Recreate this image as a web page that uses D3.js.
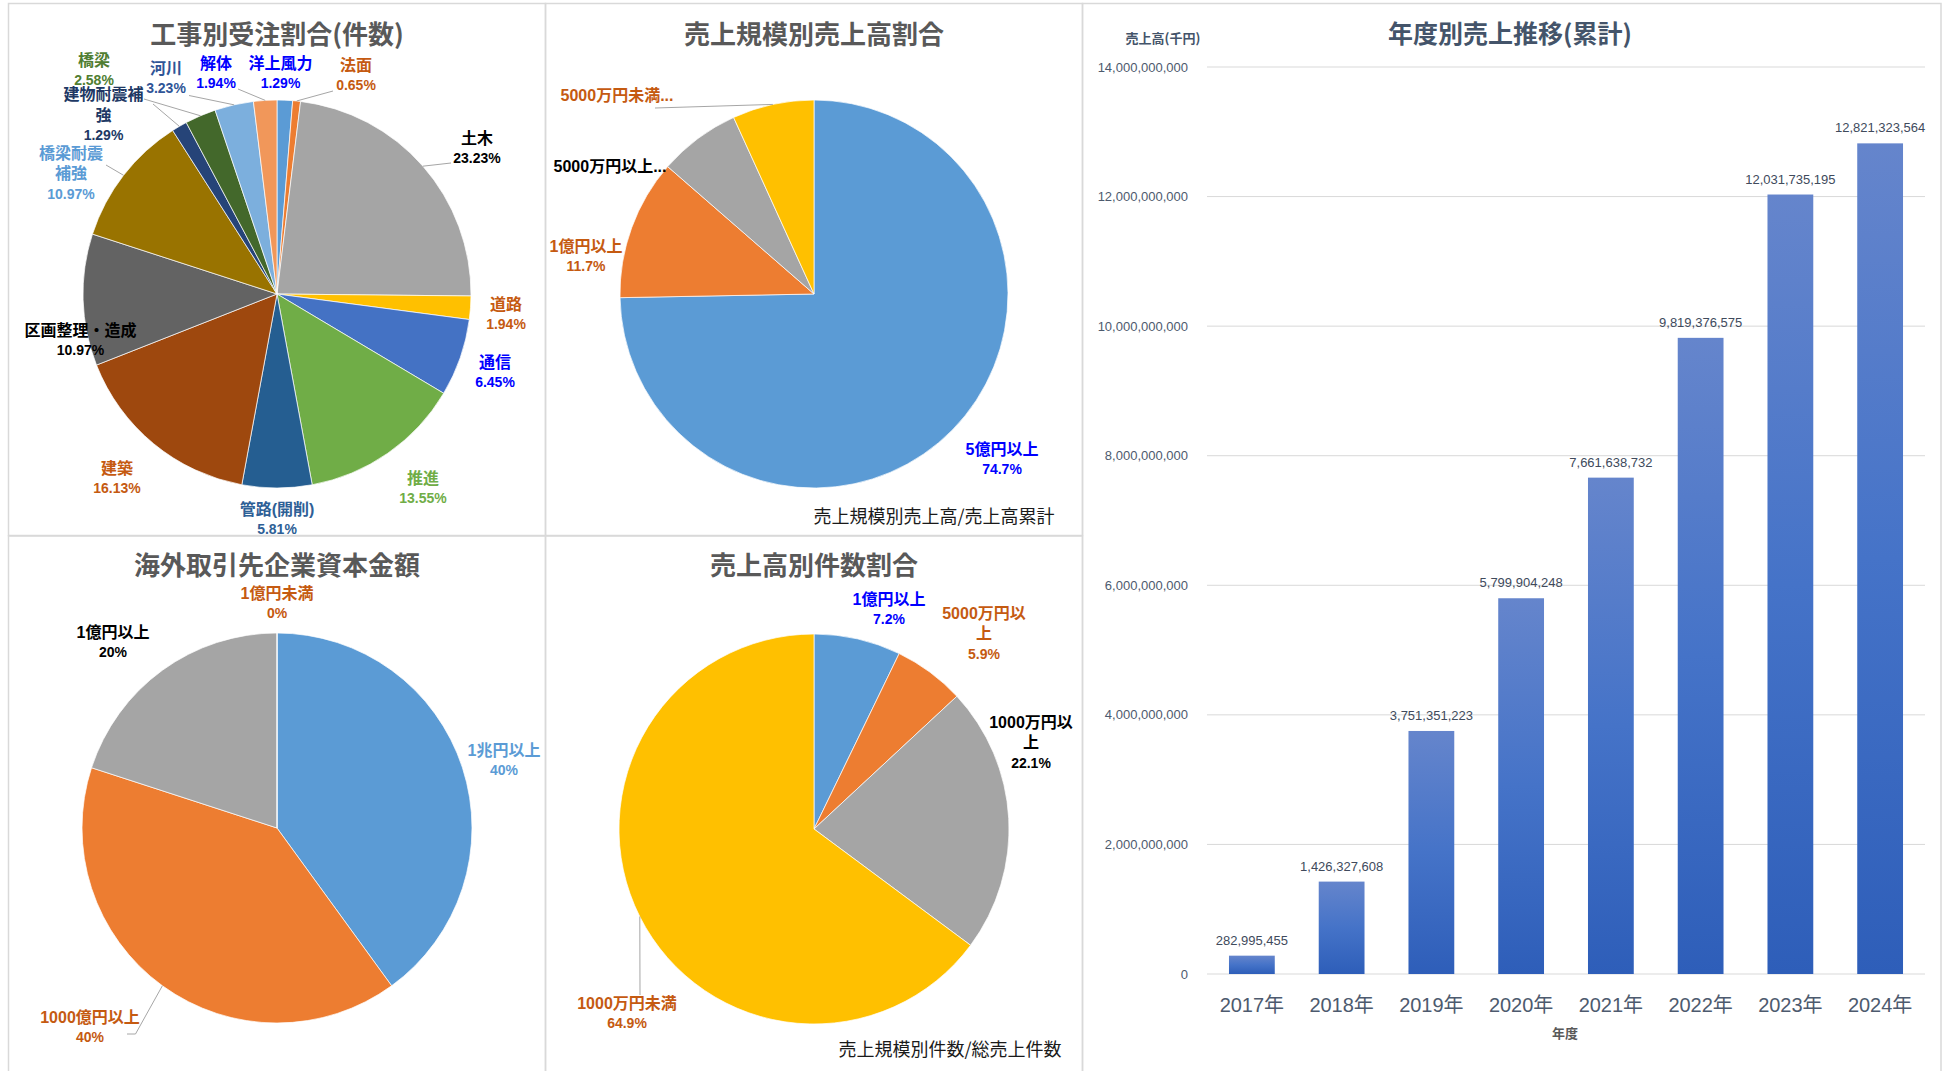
<!DOCTYPE html>
<html><head><meta charset="utf-8">
<script src="https://cdn.jsdelivr.net/npm/d3@7"></script>
<style>html,body{margin:0;padding:0;background:#fff;} svg{display:block;}</style>
</head><body>
<svg id="chart" width="1944" height="1071"></svg>
<script>
// ---------------- DATA ----------------
const workCategories = ["洋上風力","法面","土木","道路","通信","推進","管路(開削)","建築","区画整理・造成","橋梁耐震補強","建物耐震補強","橋梁","河川","解体"];
const workShares = [1.29,0.65,23.23,1.94,6.45,13.55,5.81,16.13,10.97,10.97,1.29,2.58,3.23,1.94];

const salesScaleCategories = ["5億円以上","1億円以上","5000万円以上...","5000万円未満..."];
const salesScaleShares = [74.7,11.7,6.8,6.8];

const partnerCapitalCategories = ["1兆円以上","1000億円以上","1億円以上","1億円未満"];
const partnerCapitalShares = [40,40,20,0];

const countCategories = ["1億円以上","5000万円以上","1000万円以上","1000万円未満"];
const countShares = [7.2,5.9,22.1,64.9];

const years = ["2017年","2018年","2019年","2020年","2021年","2022年","2023年","2024年"];
const cumulativeSales = [282995455,1426327608,3751351223,5799904248,7661638732,9819376575,12031735195,12821323564];
const yTickValues = [0,2000000000,4000000000,6000000000,8000000000,10000000000,12000000000,14000000000];

// ---------------- LAYOUT / STYLE ----------------
const svg = d3.select("#chart");
const LATIN_CJK = "'Liberation Sans','Noto Sans CJK JP',sans-serif";
const CJK = "'Noto Sans CJK JP','Liberation Sans',sans-serif";

const panels = [
  [8.5,3.5,545.5,535.5],[545.5,3.5,1082.5,535.5],
  [8.5,536,545.5,1080],[545.5,536,1082.5,1080],
  [1082.5,3.5,1941,1080]
];
svg.append("rect").attr("width",1944).attr("height",1071).attr("fill","#fff");
panels.forEach(p=>{
  svg.append("rect").attr("x",p[0]).attr("y",p[1]).attr("width",p[2]-p[0]).attr("height",p[3]-p[1])
    .attr("fill","none").attr("stroke","#d9d9d9").attr("stroke-width",1.5);
});

const BLUE="#0000ff", ORG="#c55a11", BLK="#000000";
const pieSpecs = [
  { cats: workCategories, vals: workShares, cx:277, cy:294, r:194,
    title:"工事別受注割合(件数)", titleY:35,
    fmt: v=>v.toFixed(2)+"%",
    colors:["#5b9bd5","#ed7d31","#a5a5a5","#ffc000","#4472c4","#70ad47","#255e91","#9e480e","#636363","#997300","#264478","#43682b","#7cafdd","#f1975a"],
    labelColors:[BLUE,ORG,BLK,ORG,BLUE,"#70ad47","#2e6096",ORG,BLK,"#5b9bd5","#203864","#507e32","#2f5597",BLUE],
    labels:[
      {dx:3.5,dy:-231},
      {dx:79,dy:-229,lead:[56,-203]},
      {dx:200,dy:-156,lead:[174,-131]},
      {dx:229,dy:10},
      {dx:218,dy:68},
      {dx:146,dy:184},
      {dx:0,dy:215},
      {dx:-160,dy:174},
      {dx:-196.5,dy:36},
      {dx:-206,dy:-141,br:4,lead:[-171,-129]},
      {dx:-173.5,dy:-199.5,br:5,lead:[-124,-190]},
      {dx:-183,dy:-234,lead:[-133,-195]},
      {dx:-111,dy:-226,lead:[-88,-198.5]},
      {dx:-61,dy:-231,lead:[-39,-205]}
    ]},
  { cats: salesScaleCategories, vals: salesScaleShares, cx:814, cy:294, r:194,
    title:"売上規模別売上高割合", titleY:35,
    fmt: v=>v.toFixed(1)+"%",
    colors:["#5b9bd5","#ed7d31","#a5a5a5","#ffc000"],
    labelColors:[BLUE,ORG,BLK,ORG],
    labels:[
      {dx:188,dy:155},
      {dx:-228,dy:-48},
      {dx:-204,dy:-128,nopct:true},
      {dx:-197,dy:-199,nopct:true,lead:[-159,-186]}
    ],
    note:"売上規模別売上高/売上高累計", noteX:934, noteY:517},
  { cats: partnerCapitalCategories, vals: partnerCapitalShares, cx:277, cy:828, r:195,
    title:"海外取引先企業資本金額", titleY:566,
    fmt: v=>d3.format(".0f")(v)+"%",
    colors:["#5b9bd5","#ed7d31","#a5a5a5","#ffc000"],
    labelColors:["#5b9bd5",ORG,BLK,ORG],
    labels:[
      {dx:227,dy:-78},
      {dx:-187,dy:189,lead:[-150,206],elbow:[-141.5,206]},
      {dx:-164,dy:-196},
      {dx:0,dy:-235}
    ]},
  { cats: countCategories, vals: countShares, cx:814, cy:829, r:195,
    title:"売上高別件数割合", titleY:566,
    fmt: v=>v.toFixed(1)+"%",
    colors:["#5b9bd5","#ed7d31","#a5a5a5","#ffc000"],
    labelColors:[BLUE,ORG,BLK,ORG],
    labels:[
      {dx:75,dy:-230},
      {dx:170,dy:-216,br:7},
      {dx:217,dy:-107,br:7},
      {dx:-187,dy:174,lead:[-174,166]}
    ],
    note:"売上規模別件数/総売上件数", noteX:950, noteY:1049.5}
];

const LINE_H = 20.5;
pieSpecs.forEach(spec=>{
  const g = svg.append("g");
  const data = spec.cats.map((c,i)=>({cat:c, value:spec.vals[i], i}));
  const arcs = d3.pie().sort(null).value(d=>d.value).startAngle(0).endAngle(2*Math.PI)(data);
  const arc = d3.arc().innerRadius(0).outerRadius(spec.r);
  const edge = d3.arc().innerRadius(spec.r).outerRadius(spec.r);
  const pg = g.append("g").attr("transform",`translate(${spec.cx},${spec.cy})`);
  pg.selectAll("path.slice").data(arcs).join("path").attr("class","slice")
    .attr("d",arc).attr("fill",d=>spec.colors[d.data.i])
    .attr("stroke","#fff").attr("stroke-width",0.7);

  arcs.forEach(a=>{
    const L = spec.labels[a.data.i];
    if(!L.lead) return;
    const e = edge.centroid(a);
    const pts = [L.lead];
    if(L.elbow) pts.push(L.elbow);
    pts.push(e);
    pg.append("path").attr("d",d3.line()(pts)).attr("fill","none")
      .attr("stroke","#a6a6a6").attr("stroke-width",1);
  });

  arcs.forEach(a=>{
    const L = spec.labels[a.data.i];
    const name = a.data.cat;
    const lines = (L.br ? [name.slice(0,L.br), name.slice(L.br)] : [name]).map(s=>({s, fs:16}));
    if(!L.nopct) lines.push({s:spec.fmt(a.data.value), fs:14});
    const t = pg.append("text").attr("text-anchor","middle")
      .attr("font-family",LATIN_CJK).attr("font-weight","bold")
      .attr("fill",spec.labelColors[a.data.i]);
    lines.forEach((ln,k)=>{
      t.append("tspan").attr("x",L.dx).attr("y",L.dy+k*LINE_H).attr("dy","0.35em")
        .attr("font-size",ln.fs).text(ln.s);
    });
  });

  svg.append("text").attr("x",spec.cx).attr("y",spec.titleY).attr("dy","0.35em")
    .attr("text-anchor","middle").attr("font-family",CJK).attr("font-weight","bold")
    .attr("font-size",26).attr("fill","#595959").text(spec.title);

  if(spec.note){
    svg.append("text").attr("x",spec.noteX).attr("y",spec.noteY).attr("dy","0.35em")
      .attr("text-anchor","middle").attr("font-family",CJK).attr("font-size",18)
      .attr("fill","#1a1a1a").text(spec.note);
  }
});

// ---------------- BAR CHART ----------------
const defs = svg.append("defs");
const grad = defs.append("linearGradient").attr("id","barGrad").attr("x1",0).attr("y1",0).attr("x2",0).attr("y2",1);
grad.append("stop").attr("offset","0%").attr("stop-color","#6585cc");
grad.append("stop").attr("offset","50%").attr("stop-color","#4573c8");
grad.append("stop").attr("offset","100%").attr("stop-color","#2e5eb9");

const x = d3.scaleBand().domain(years).range([1207,1925]).padding(0);
const y = d3.scaleLinear().domain([0,14000000000]).range([974,67]);
const barW = x.bandwidth()/1.96;
const bc = svg.append("g");
const fmtNum = d3.format(",");

bc.selectAll("line.grid").data(yTickValues).join("line").attr("class","grid")
  .attr("x1",1207).attr("x2",1925).attr("y1",d=>y(d)).attr("y2",d=>y(d))
  .attr("stroke","#d9d9d9").attr("stroke-width",1);

bc.selectAll("text.ytick").data(yTickValues).join("text").attr("class","ytick")
  .attr("x",1188).attr("y",d=>y(d)).attr("dy","0.35em").attr("text-anchor","end")
  .attr("font-family",LATIN_CJK).attr("font-size",13).attr("fill","#4d5a6e")
  .text(d=>fmtNum(d));

const bars = years.map((yr,i)=>({yr, v:cumulativeSales[i]}));
bc.selectAll("rect.bar").data(bars).join("rect").attr("class","bar")
  .attr("x",d=>x(d.yr)+(x.bandwidth()-barW)/2).attr("width",barW)
  .attr("y",d=>y(d.v)).attr("height",d=>y(0)-y(d.v)).attr("fill","url(#barGrad)");

bc.selectAll("text.val").data(bars).join("text").attr("class","val")
  .attr("x",d=>x(d.yr)+x.bandwidth()/2).attr("y",d=>y(d.v)-15.5).attr("dy","0.35em")
  .attr("text-anchor","middle").attr("font-family",LATIN_CJK).attr("font-size",13)
  .attr("fill","#404a5c").text(d=>fmtNum(d.v));

bc.selectAll("text.xtick").data(years).join("text").attr("class","xtick")
  .attr("x",d=>x(d)+x.bandwidth()/2).attr("y",1005).attr("dy","0.35em")
  .attr("text-anchor","middle").attr("font-family",LATIN_CJK).attr("font-size",20)
  .attr("fill","#4d5a6e").text(d=>d);

svg.append("text").attr("x",1510).attr("y",34.5).attr("dy","0.35em").attr("text-anchor","middle")
  .attr("font-family",CJK).attr("font-weight","bold").attr("font-size",25)
  .attr("fill","#44546a").text("年度別売上推移(累計)");
svg.append("text").attr("x",1163).attr("y",38.5).attr("dy","0.35em").attr("text-anchor","middle")
  .attr("font-family",CJK).attr("font-weight","bold").attr("font-size",13)
  .attr("fill","#44546a").text("売上高(千円)");
svg.append("text").attr("x",1565).attr("y",1033).attr("dy","0.35em").attr("text-anchor","middle")
  .attr("font-family",CJK).attr("font-weight","bold").attr("font-size",13)
  .attr("fill","#595959").text("年度");
</script>
</body></html>
